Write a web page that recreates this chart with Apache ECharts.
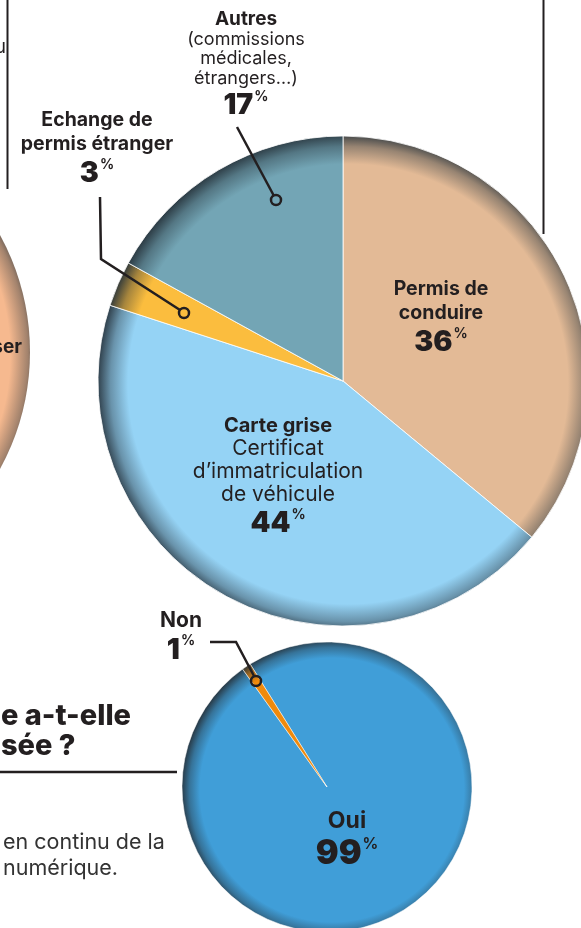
<!DOCTYPE html>
<html>
<head>
<meta charset="utf-8">
<script src="https://cdn.jsdelivr.net/npm/echarts@6/dist/echarts.min.js"></script>
<style>
  html, body { margin: 0; padding: 0; background: #fff; }
  #chart { width: 581px; height: 928px; }
</style>
</head>
<body>
<div id="chart"></div>
<script>
// démarches (top pie), clockwise from 12 o'clock
const demarcheNames = ["Permis de\nconduire", "Carte grise", "Echange de\npermis étranger", "Autres"];
const demarcheDetails = ["", "Certificat\nd’immatriculation\nde véhicule", "", "(commissions\nmédicales,\nétrangers…)"];
const demarcheValues = [36, 44, 3, 17];
const demarcheColors = ["#E3BA96", "#95D3F5", "#FBBD3E", "#73A5B5"];

// réponse (bottom pie)
const reponseNames = ["Oui", "Non"];
const reponseValues = [99, 1];
const reponseColors = ["#409ED8", "#EF8A0C"];

// label anchors (centre x, top y)
const topLabelPos = [[441, 277], [278, 414], [97, 108], [246, 10]];
const bottomLabelPos = [[347, 808], [181, 610]];

const TOP = { cx: 343, cy: 381, r: 245 };
const BOT = { cx: 327, cy: 787, r: 145 };
const INK = "#231f20";
const EDGE = "#26323b";
const FONT = "Inter";

function mix(a, b, t) {
  const pa = [1, 3, 5].map((i) => parseInt(a.slice(i, i + 2), 16));
  const pb = [1, 3, 5].map((i) => parseInt(b.slice(i, i + 2), 16));
  return "rgb(" + pa.map((v, i) => Math.round(v + (pb[i] - v) * t)).join(",") + ")";
}

// darker rim, slightly lighter to the lower right
function shade(base, c) {
  return new echarts.graphic.RadialGradient(c.cx + 5, c.cy + 3, c.r + 5, [
    { offset: 0, color: base },
    { offset: 0.88, color: base },
    { offset: 0.95, color: mix(base, EDGE, 0.4) },
    { offset: 1, color: mix(base, EDGE, 0.9) },
  ], true);
}

const topRich = {
  t: { fontFamily: FONT, fontSize: 19.5, fontWeight: "bold", lineHeight: 24, color: INK },
  d: { fontFamily: FONT, fontSize: 21, lineHeight: 23, color: INK },
  tc: { fontFamily: FONT, fontSize: 20, fontWeight: "bold", lineHeight: 23, color: INK },
  ts: { fontFamily: FONT, fontSize: 19, fontWeight: "bold", lineHeight: 19.5, color: INK },
  ds: { fontFamily: FONT, fontSize: 18, lineHeight: 19.5, color: INK },
  v: { fontFamily: FONT, fontSize: 28.5, fontWeight: 900, lineHeight: 34, color: INK },
  pc: { fontFamily: FONT, fontSize: 14, fontWeight: "bold", verticalAlign: "top", padding: [2, 0, 0, 1], color: INK },
};

const botRich = {
  t: { fontFamily: FONT, fontSize: 21, fontWeight: "bold", lineHeight: 22, color: INK },
  tb: { fontFamily: FONT, fontSize: 23, fontWeight: "bold", lineHeight: 26, color: INK },
  v: { fontFamily: FONT, fontSize: 29, fontWeight: 900, lineHeight: 36, color: INK },
  vb: { fontFamily: FONT, fontSize: 34, fontWeight: 900, lineHeight: 40, color: INK },
  pc: { fontFamily: FONT, fontSize: 14, fontWeight: "bold", verticalAlign: "top", padding: [2, 0, 0, 1], color: INK },
  pcb: { fontFamily: FONT, fontSize: 15.5, fontWeight: "bold", verticalAlign: "top", padding: [2, 0, 0, 1], color: INK },
};

const chart = echarts.init(document.getElementById("chart"));

function leader(points, dot) {
  return [
    { type: "polyline", z: 100, shape: { points: points }, style: { stroke: INK, lineWidth: 2.5, fill: null } },
    { type: "circle", z: 101, shape: { cx: dot[0], cy: dot[1], r: 5 }, style: { stroke: INK, lineWidth: 2.5, fill: null } },
  ];
}

chart.setOption({
  animation: false,
  graphic: [
    // neighbouring pie, cut by the frame
    { type: "circle", z: 1, shape: { cx: -213, cy: 352, r: 243 }, style: { fill: shade("#F6B98F", { cx: -213, cy: 352, r: 243 }) } },
    { type: "text", z: 100, style: { text: "ser", x: 22, y: 347, align: "right", verticalAlign: "middle", font: "bold 19px " + FONT, fill: INK } },
    { type: "text", z: 100, style: { text: "u", x: 6, y: 47, align: "right", verticalAlign: "middle", font: "19px " + FONT, fill: INK } },
    { type: "line", z: 100, shape: { x1: 7.5, y1: 0, x2: 7.5, y2: 189 }, style: { stroke: INK, lineWidth: 2 } },
    { type: "line", z: 100, shape: { x1: 543.5, y1: 0, x2: 543.5, y2: 234 }, style: { stroke: INK, lineWidth: 2 } },
    { type: "text", z: 100, style: { text: "e a-t-elle\nsée ?", x: 1, y: 701, lineHeight: 30, font: "800 29px " + FONT, fill: INK } },
    { type: "line", z: 100, shape: { x1: 0, y1: 772, x2: 177, y2: 772 }, style: { stroke: INK, lineWidth: 2.5 } },
    { type: "text", z: 100, style: { text: "en continu de la\nnumérique.", x: 3, y: 830, lineHeight: 26, font: "21.5px " + FONT, fill: "#333" } },
    ...leader([[237, 127], [274, 196]], [276, 200]),
    ...leader([[100, 197], [101, 259], [180, 310]], [184, 313]),
    ...leader([[210, 642], [236, 642], [254, 676]], [256, 681]),
  ],
  series: [
    {
      type: "pie",
      center: [TOP.cx, TOP.cy],
      radius: TOP.r,
      startAngle: 90,
      silent: true,
      avoidLabelOverlap: false,
      itemStyle: { borderColor: "#fff", borderWidth: 0.8 },
      label: {
        show: true,
        position: "inside",
        color: INK,
        formatter: (p) => {
          const i = p.dataIndex;
          const small = i === 3;
          const title = small ? "ts" : (demarcheDetails[i] ? "tc" : "t");
          let s = "{" + title + "|" + demarcheNames[i] + "}";
          if (demarcheDetails[i]) s += "\n{" + (small ? "ds" : "d") + "|" + demarcheDetails[i] + "}";
          return s + "\n{v|" + p.value + "}{pc|%}";
        },
        rich: topRich,
      },
      labelLine: { show: false },
      labelLayout: (p) => ({ x: topLabelPos[p.dataIndex][0], y: topLabelPos[p.dataIndex][1], align: "center", verticalAlign: "top" }),
      data: demarcheNames.map((n, i) => ({
        name: n,
        value: demarcheValues[i],
        itemStyle: { color: shade(demarcheColors[i], TOP) },
      })),
    },
    {
      type: "pie",
      center: [BOT.cx, BOT.cy],
      radius: BOT.r,
      startAngle: 122,
      silent: true,
      avoidLabelOverlap: false,
      itemStyle: { borderColor: "#fff", borderWidth: 0.5 },
      label: {
        show: true,
        position: "inside",
        color: INK,
        formatter: (p) => p.dataIndex === 0
          ? "{tb|" + p.name + "}\n{vb|" + p.value + "}{pcb|%}"
          : "{t|" + p.name + "}\n{v|" + p.value + "}{pc|%}",
        rich: botRich,
      },
      labelLine: { show: false },
      labelLayout: (p) => ({ x: bottomLabelPos[p.dataIndex][0], y: bottomLabelPos[p.dataIndex][1], align: "center", verticalAlign: "top" }),
      data: reponseNames.map((n, i) => ({
        name: n,
        value: reponseValues[i],
        itemStyle: { color: shade(reponseColors[i], BOT) },
      })),
    },
  ],
});
</script>
</body>
</html>
